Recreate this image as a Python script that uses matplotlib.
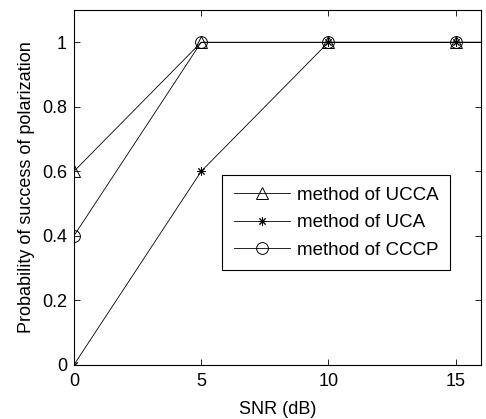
import matplotlib
matplotlib.use("Agg")
import matplotlib.pyplot as plt
from matplotlib.ticker import FuncFormatter

snr = [0, 5, 10, 15, 20]
ucca = [0.6, 1, 1, 1, 1]
uca = [0, 0.6, 1, 1, 1]
cccp = [0.4, 1, 1, 1, 1]
labels = ["method of UCCA", "method of UCA", "method of CCCP"]

plt.rcParams['font.family'] = ['Liberation Sans', 'DejaVu Sans']
plt.rcParams['font.size'] = 13

fig = plt.figure(figsize=(4.86, 4.19), dpi=100)
ax = fig.add_axes([0.152, 0.129, 0.838, 0.847])

kw = dict(color='black', linewidth=0.6, markerfacecolor='none', markeredgecolor='black', markeredgewidth=0.7)
ax.plot(snr, ucca, marker='^', markersize=9, label=labels[0], **kw)
ax.plot(snr, uca, marker=(8, 2, 0), markersize=6, label=labels[1], **kw)
ax.plot(snr, cccp, marker='o', markersize=8.5, label=labels[2], **kw)

ax.set_xlim(0, 16)
ax.set_ylim(0, 1.1)
ax.set_xticks([0, 5, 10, 15])
ax.set_yticks([0, 0.2, 0.4, 0.6, 0.8, 1.0])
ax.yaxis.set_major_formatter(FuncFormatter(lambda v, p: f"{v:g}"))
ax.tick_params(direction='in', top=True, right=True, length=4, width=0.6, labelsize=13)
ax.tick_params(axis='x', pad=6)
ax.tick_params(axis='y', pad=5)
for s in ax.spines.values():
    s.set_linewidth(0.8)
ax.set_xlabel("SNR (dB)", labelpad=8)
ax.set_ylabel("Probability of success of polarization", labelpad=5)

leg = ax.legend(loc='upper right', bbox_to_anchor=(0.924, 0.534), borderaxespad=0,
                fancybox=False, edgecolor='black', framealpha=1, handlelength=3.0,
                handletextpad=0.4, borderpad=0.6, labelspacing=0.55, fontsize=13.5)
leg.get_frame().set_linewidth(0.8)

fig.savefig("out.png", dpi=100)
